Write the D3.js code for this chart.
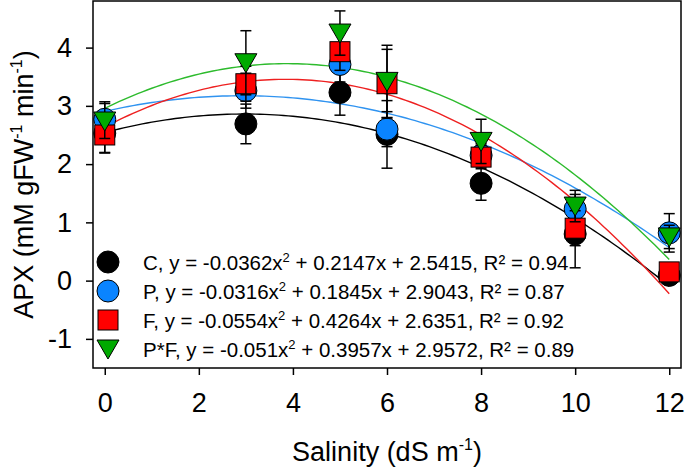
<!DOCTYPE html>
<html><head><meta charset="utf-8">
<script src="https://cdn.jsdelivr.net/npm/d3@7"></script>
<style>html,body{margin:0;padding:0;background:#fff;}svg{display:block;font-family:"Liberation Sans",Arial,sans-serif;}</style>
</head><body>
<svg id="chart" width="685" height="470"></svg>
<script>
// ---- data ----
const salinity = [0, 3, 5, 6, 8, 10, 12];
const seriesNames = ["C", "P", "F", "P*F"];
const apxC  = [2.53, 2.69, 3.23, 2.51, 1.67, 0.80, 0.09];
const apxP  = [2.77, 3.26, 3.71, 2.60, 2.15, 1.23, 0.82];
const apxF  = [2.50, 3.38, 3.93, 3.38, 2.12, 0.90, 0.15];
const apxPF = [2.74, 3.74, 4.25, 3.42, 2.39, 1.28, 0.75];
const errC  = [0.34, 0.34, 0.39, 0.58, 0.29, 0.58, 0.08];
const errP  = [0.30, 0.30, 0.30, 0.30, 0.20, 0.25, 0.33];
const errF  = [0.30, 0.30, 0.32, 0.59, 0.20, 0.30, 0.08];
const errPF = [0.30, 0.55, 0.38, 0.62, 0.38, 0.27, 0.20];
const coefC  = [-0.0362, 0.2147, 2.5415];
const coefP  = [-0.0316, 0.1845, 2.9043];
const coefF  = [-0.0554, 0.4264, 2.6351];
const coefPF = [-0.051, 0.3957, 2.9572];
const eqA = ["-0.0362", "-0.0316", "-0.0554", "-0.051"];
const eqB = ["0.2147", "0.1845", "0.4264", "0.3957"];
const eqC = ["2.5415", "2.9043", "2.6351", "2.9572"];
const r2  = ["0.94", "0.87", "0.92", "0.89"];
const xTicks = [0, 2, 4, 6, 8, 10, 12];
const yTicks = [-1, 0, 1, 2, 3, 4];
const xTickLabels = ["0", "2", "4", "6", "8", "10", "12"];
const yTickLabels = ["-1", "0", "1", "2", "3", "4"];

// ---- styles ----
const fills = ["#000000", "#0a84ff", "#ff0000", "#00aa00"];
const lineCols = ["#000000", "#2f93f0", "#ee2020", "#2dbb2d"];
const shapes = ["circle", "circle", "square", "triangle"];

const series = seriesNames.map((n, i) => ({
  name: n,
  vals: [apxC, apxP, apxF, apxPF][i],
  errs: [errC, errP, errF, errPF][i],
  coef: [coefC, coefP, coefF, coefPF][i],
  fill: fills[i], line: lineCols[i], shape: shapes[i]
}));

const svg = d3.select("#chart");
const L = 93, R = 681, T = 1, B = 368;
const x = d3.scaleLinear().domain([-0.25, 12.25]).range([L, R]);
const y = d3.scaleLinear().domain([-1.5, 4.8]).range([B, T]);

// axes
const xAxis = svg.append("g").attr("transform", `translate(0,${B})`)
  .call(d3.axisBottom(x).tickValues(xTicks).tickSize(7).tickPadding(18)
    .tickFormat((d, i) => xTickLabels[i]));
const yAxis = svg.append("g").attr("transform", `translate(${L},0)`)
  .call(d3.axisLeft(y).tickValues(yTicks).tickSize(7).tickPadding(14)
    .tickFormat((d, i) => yTickLabels[i]));
[xAxis, yAxis].forEach(g => {
  g.select(".domain").remove();
  g.selectAll("line").attr("stroke", "#000").attr("stroke-width", 1.5);
  g.selectAll("text").attr("fill", "#000").style("font-size", "27px").style("font-family", '"Liberation Sans",Arial,sans-serif');
});

// clip
svg.append("clipPath").attr("id", "clip").append("rect")
  .attr("x", L).attr("y", T).attr("width", R - L).attr("height", B - T);

// fit curves
const xs = d3.range(0, 12.001, 0.1);
series.forEach(s => {
  const [a, b, c] = s.coef;
  svg.append("path")
    .attr("clip-path", "url(#clip)")
    .attr("d", d3.line().x(d => x(d)).y(d => y(a * d * d + b * d + c))(xs))
    .attr("fill", "none").attr("stroke", s.line).attr("stroke-width", 1.4);
});

function drawMarker(g, shape, cx, cy, fill) {
  if (shape === "circle") {
    g.append("circle").attr("cx", cx).attr("cy", cy).attr("r", 11)
      .attr("fill", fill).attr("stroke", "#000").attr("stroke-width", 1);
  } else if (shape === "square") {
    g.append("rect").attr("x", cx - 10).attr("y", cy - 10).attr("width", 20).attr("height", 20)
      .attr("fill", fill).attr("stroke", "#000").attr("stroke-width", 1);
  } else {
    g.append("path").attr("d", `M${cx - 11},${cy - 9}L${cx + 11},${cy - 9}L${cx},${cy + 10}Z`)
      .attr("fill", fill).attr("stroke", "#000").attr("stroke-width", 1);
  }
}

// points with error bars
series.forEach(s => {
  const g = svg.append("g");
  salinity.forEach((sx, i) => {
    const cx = x(sx), v = s.vals[i], e = s.errs[i];
    const y1 = y(v + e), y2 = y(v - e);
    g.append("line").attr("x1", cx).attr("x2", cx).attr("y1", y1).attr("y2", y2)
      .attr("stroke", "#000").attr("stroke-width", 1.5);
    [y1, y2].forEach(yy => g.append("line").attr("x1", cx - 5.5).attr("x2", cx + 5.5)
      .attr("y1", yy).attr("y2", yy).attr("stroke", "#000").attr("stroke-width", 1.5));
  });
  salinity.forEach((sx, i) => drawMarker(g, s.shape, x(sx), y(s.vals[i]), s.fill));
});

// legend
const legY = [262, 291, 320, 349];
series.forEach((s, i) => {
  const g = svg.append("g");
  drawMarker(g, s.shape, 108, legY[i], s.fill);
  const t = g.append("text").attr("x", 143).attr("y", legY[i] + 7.5)
    .style("font-size", "20.5px").attr("fill", "#000");
  t.append("tspan").text(`${s.name}, y = ${eqA[i]}x`);
  t.append("tspan").attr("dy", -8).style("font-size", "13px").text("2");
  t.append("tspan").attr("dy", 8).text(` + ${eqB[i]}x + ${eqC[i]}, R\u00B2 = ${r2[i]}`);
});

// frame
svg.append("rect").attr("x", L).attr("y", T).attr("width", R - L).attr("height", B - T)
  .attr("fill", "none").attr("stroke", "#000").attr("stroke-width", 1.5);

// axis titles
const xt = svg.append("text").attr("x", (L + R) / 2).attr("y", 461).attr("text-anchor", "middle")
  .style("font-size", "27px").attr("fill", "#000");
xt.append("tspan").text("Salinity (dS m");
xt.append("tspan").attr("dy", -11).style("font-size", "16px").text("-1");
xt.append("tspan").attr("dy", 11).text(")");

const yt = svg.append("text").attr("transform", `translate(33,${(T + B) / 2}) rotate(-90)`)
  .attr("text-anchor", "middle").style("font-size", "27px").attr("fill", "#000");
yt.append("tspan").text("APX (mM gFW");
yt.append("tspan").attr("dy", -11).style("font-size", "16px").text("-1");
yt.append("tspan").attr("dy", 11).text(" min");
yt.append("tspan").attr("dy", -11).style("font-size", "16px").text("-1");
yt.append("tspan").attr("dy", 11).text(")");
</script>
</body></html>
